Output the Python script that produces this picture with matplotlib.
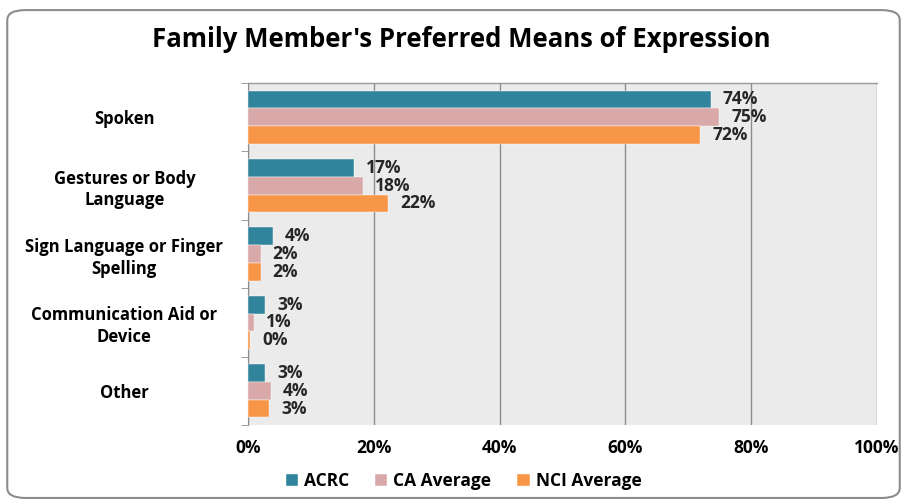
import matplotlib
matplotlib.use("Agg")
import matplotlib.pyplot as plt
import numpy as np
from matplotlib.patches import FancyBboxPatch

categories = ["Spoken", "Gestures or Body\nLanguage", "Sign Language or Finger\nSpelling",
              "Communication Aid or\nDevice", "Other"]
series_names = ["ACRC", "CA Average", "NCI Average"]
acrc = [73.6, 16.9, 4.0, 2.7, 2.7]
ca_avg = [74.9, 18.3, 2.0, 1.0, 3.6]
nci_avg = [71.9, 22.3, 2.0, 0.4, 3.4]
xticks = [0, 20, 40, 60, 80, 100]

colors = ["#31849B", "#D9A8A8", "#F79646"]
plt.rcParams['font.family'] = ['Open Sans', 'DejaVu Sans']

fig = plt.figure(figsize=(9.07, 5.04), dpi=100)
border = FancyBboxPatch((0.008, 0.012), 0.984, 0.968, boxstyle="round,pad=0,rounding_size=0.02",
                        transform=fig.transFigure, facecolor="white", edgecolor="#8C8C8C", lw=1.5,
                        zorder=-10)
fig.patches.append(border)

ax = fig.add_axes([0.2734, 0.1567, 0.6936, 0.6786])
ax.set_zorder(1)
ax.set_facecolor("#EBEBEB")
n = len(categories)
y = np.arange(n)
h = 0.26
for i, (vals, c) in enumerate(zip([acrc, ca_avg, nci_avg], colors)):
    pos = y + (i - 1) * h
    ax.barh(pos, vals, height=h, color=c, edgecolor="white", linewidth=0.3,
            label=series_names[i], zorder=3)
    for p, v in zip(pos, vals):
        ax.text(v + 1.9, p, f"{round(v)}%", va="center", ha="left",
                fontsize=12.5, fontweight="bold", color="#262626", zorder=4)

ax.set_ylim(n - 0.5, -0.5)
ax.set_xlim(0, 100)
ax.set_xticks(xticks)
ax.set_xticklabels([f"{t}%" for t in xticks], fontsize=12.5, fontweight="bold")
ax.set_yticks(y)
ax.set_yticklabels(categories, fontsize=12, fontweight="bold", ha="center",
                   linespacing=1.25)
ax.tick_params(axis="y", which="major", length=0, pad=89)
ax.set_yticks(np.arange(-0.5, n, 1), minor=True)
ax.tick_params(axis="y", which="minor", length=5, color="#8C8C8C", direction="out")
ax.tick_params(axis="x", length=0, pad=10)
ax.xaxis.grid(True, color="#8C8C8C", lw=1.0, zorder=0)
ax.set_axisbelow(True)
for s in ["right", "bottom"]:
    ax.spines[s].set_visible(False)
ax.spines["left"].set_color("#8C8C8C")
ax.spines["top"].set_color("#9A9A9A")
ax.spines["top"].set_linewidth(1.0)

fig.text(0.508, 0.922, "Family Member's Preferred Means of Expression", ha="center", va="center",
         fontsize=18.5, fontweight="bold", color="black")

leg = fig.legend(loc="center", bbox_to_anchor=(0.511, 0.046), ncol=3, frameon=False,
                 prop={"size": 12.5, "weight": "bold"}, handlelength=0.7, handleheight=0.7,
                 handletextpad=0.35, columnspacing=1.5)

fig.savefig("out.png", dpi=100)
